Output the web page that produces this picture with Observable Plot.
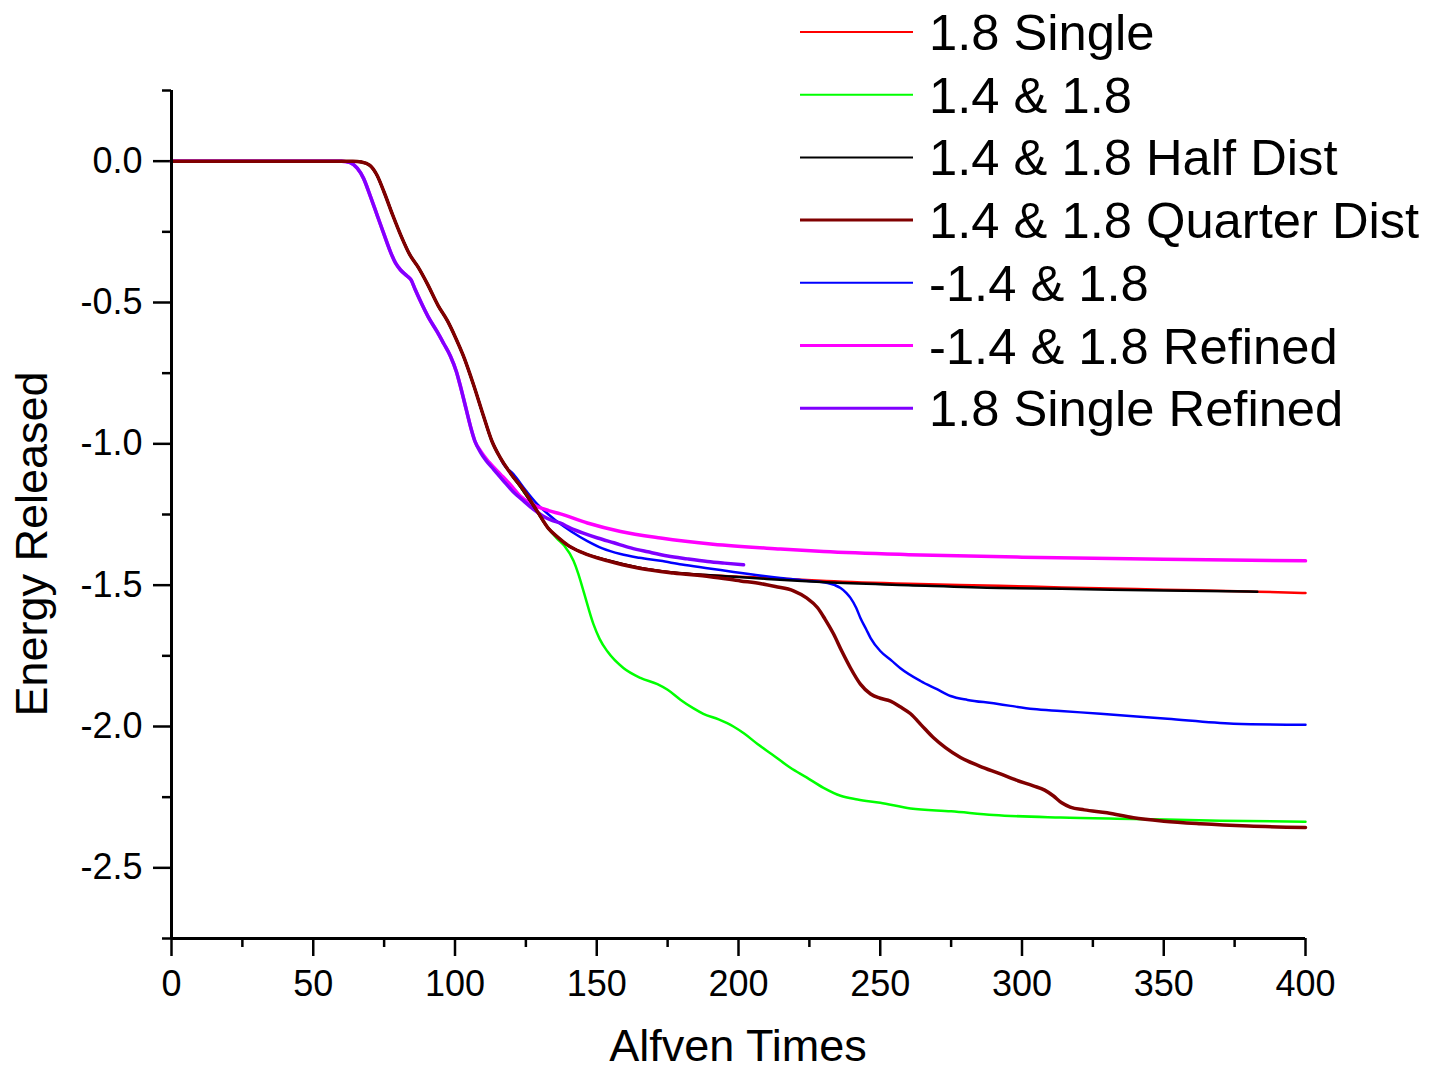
<!DOCTYPE html>
<html>
<head>
<meta charset="utf-8">
<script src="https://cdn.jsdelivr.net/npm/d3@7"></script>
<script src="https://cdn.jsdelivr.net/npm/@observablehq/plot@0.6"></script>
<style>
  html, body { margin: 0; padding: 0; background: #fff; }
  #wrap { position: relative; width: 1429px; height: 1071px; font-family: "Liberation Sans", Arial, sans-serif; }
  #overlay { position: absolute; left: 0; top: 0; pointer-events: none; }
</style>
</head>
<body>
<div id="wrap"></div>
<script>
// ---- Data (Alfven Times, Energy Released) ----
const seriesNames = ["1.8 Single", "1.4 & 1.8", "1.4 & 1.8 Half Dist", "1.4 & 1.8 Quarter Dist", "-1.4 & 1.8", "-1.4 & 1.8 Refined", "1.8 Single Refined"];
const seriesColors = ["#ff0000", "#00ff00", "#000000", "#800000", "#0000ff", "#ff00ff", "#8000ff"];
const seriesWidths = [2.5, 2.5, 2.5, 3.5, 2.5, 3.5, 3.5];

// shared initial drop of the unrefined runs
const earlyDrop = [[0,0],[50,0],[64,0],[67,-0.003],[70,-0.015],[72.5,-0.05],[75,-0.11],[78,-0.19],[81,-0.265],[84,-0.33],[87,-0.375],[90.3,-0.435],[94,-0.51],[97.4,-0.566],[100,-0.62],[103,-0.69],[106.5,-0.79],[110,-0.9],[113,-0.99],[116,-1.05],[120,-1.11]];

const single18 = [[124,-1.165],[129,-1.24],[133,-1.3],[136.2,-1.33],[140,-1.36],[145,-1.385],[153.8,-1.412],[165,-1.438],[177,-1.455],[190,-1.465],[200,-1.47],[210,-1.474],[231,-1.485],[260,-1.495],[292,-1.502],[314,-1.508],[350,-1.516],[383,-1.523],[400,-1.528]];

const pair1418 = [[124,-1.165],[129,-1.24],[133,-1.3],[136,-1.335],[138.5,-1.36],[141.8,-1.414],[143.5,-1.46],[145.3,-1.52],[148.8,-1.637],[151,-1.69],[153.8,-1.735],[159.4,-1.793],[165.4,-1.828],[171.4,-1.85],[175,-1.87],[179.5,-1.905],[184,-1.935],[187.6,-1.955],[193,-1.975],[198.2,-2.0],[202,-2.025],[206.7,-2.062],[212,-2.1],[218.3,-2.146],[224,-2.18],[230,-2.217],[236,-2.245],[242,-2.258],[250,-2.27],[260.7,-2.29],[275,-2.3],[290,-2.313],[313.6,-2.322],[339.3,-2.327],[370,-2.333],[400,-2.337]];

const halfDist = [[124,-1.165],[129,-1.24],[133,-1.3],[136.2,-1.33],[140,-1.36],[145,-1.385],[153.8,-1.412],[165,-1.438],[177,-1.455],[190,-1.465],[200,-1.471],[210,-1.478],[231,-1.49],[260,-1.5],[292,-1.51],[314,-1.513],[350,-1.519],[383,-1.523]];

const quarterDist = [[124,-1.16],[129,-1.238],[133,-1.3],[136.2,-1.33],[140,-1.36],[145,-1.385],[153.8,-1.414],[165,-1.44],[177,-1.457],[190,-1.47],[200.7,-1.485],[208,-1.495],[213,-1.505],[219.4,-1.52],[224,-1.545],[227.9,-1.58],[230.5,-1.62],[233.5,-1.672],[236.5,-1.735],[239.5,-1.793],[243,-1.85],[246.6,-1.885],[250,-1.9],[253.6,-1.91],[257,-1.93],[260.7,-1.955],[264.5,-1.995],[268.8,-2.04],[273,-2.075],[278.3,-2.11],[285,-2.14],[292.4,-2.168],[298,-2.19],[304,-2.21],[308,-2.225],[311,-2.245],[314,-2.27],[317,-2.285],[322,-2.295],[330,-2.305],[339.3,-2.323],[350,-2.335],[363,-2.344],[380,-2.352],[400,-2.357]];

const neg1418 = [[117,-1.07],[120.6,-1.107],[125,-1.165],[129,-1.213],[133,-1.25],[137.2,-1.284],[141,-1.31],[146.7,-1.344],[152,-1.37],[158.4,-1.39],[165,-1.403],[172.5,-1.414],[180,-1.427],[189,-1.44],[196,-1.45],[203,-1.46],[214.8,-1.475],[224,-1.484],[231.4,-1.492],[234,-1.5],[236,-1.51],[238,-1.527],[239.5,-1.545],[241.5,-1.58],[243,-1.616],[245,-1.655],[246.6,-1.687],[250,-1.733],[254,-1.767],[257,-1.793],[264.2,-1.839],[270,-1.868],[274.8,-1.892],[280.8,-1.906],[290,-1.918],[296,-1.927],[304,-1.938],[313.6,-1.945],[327.7,-1.955],[351.3,-1.973],[374.6,-1.99],[400,-1.994]];

// shared initial drop of the refined runs
const refinedDrop = [[0,0],[50,0],[60,0],[63,-0.005],[65.5,-0.025],[67.7,-0.06],[70,-0.12],[72.5,-0.19],[75,-0.26],[77.2,-0.32],[79,-0.36],[80.8,-0.385],[83,-0.405],[84.5,-0.42],[86,-0.455],[87.8,-0.495],[90.5,-0.55],[93.8,-0.605],[96,-0.645],[98.4,-0.69],[100.5,-0.745],[102,-0.8],[104,-0.88],[105.5,-0.94],[107,-0.99]];

const neg1418Refined = [[109,-1.025],[112,-1.065],[116,-1.107],[120,-1.15],[123,-1.185],[126,-1.207],[129,-1.222],[133,-1.236],[137.2,-1.248],[146.7,-1.28],[158.4,-1.31],[172.5,-1.333],[191,-1.355],[214.8,-1.372],[230,-1.381],[260,-1.392],[300,-1.401],[350,-1.408],[400,-1.414]];

const single18Refined = [[109,-1.03],[111,-1.06],[113.6,-1.09],[117,-1.13],[120.6,-1.17],[124,-1.2],[127.7,-1.232],[131,-1.255],[134,-1.27],[137,-1.28],[140.7,-1.298],[145,-1.315],[150.3,-1.333],[156,-1.35],[162,-1.368],[168,-1.382],[175,-1.397],[182,-1.407],[189,-1.416],[195,-1.422],[201.8,-1.428]];

const xMajorTicks = [0, 50, 100, 150, 200, 250, 300, 350, 400];
const xMinorTicks = [25, 75, 125, 175, 225, 275, 325, 375];
const yMajorTicks = [0, -0.5, -1, -1.5, -2, -2.5];
const yMinorTicks = [0.25, -0.25, -0.75, -1.25, -1.75, -2.25, -2.75];
const xTitle = "Alfven Times";
const yTitle = "Energy Released";

// ---- Build table ----
const seriesPoints = [
  earlyDrop.concat(single18),
  earlyDrop.concat(pair1418),
  earlyDrop.concat(halfDist),
  earlyDrop.concat(quarterDist),
  earlyDrop.filter(p => p[0] < 117).concat(neg1418),
  refinedDrop.concat(neg1418Refined),
  refinedDrop.concat(single18Refined)
];
const rows = [];
seriesPoints.forEach((pts, i) => pts.forEach(([t, e]) => rows.push({series: seriesNames[i], t, e})));

// draw order (later on top)
const drawOrder = [0, 1, 4, 5, 6, 2, 3];

const fontFamily = '"Liberation Sans", Arial, sans-serif';

const chart = Plot.plot({
  width: 1429,
  height: 1071,
  marginLeft: 171,
  marginRight: 124,
  marginTop: 90,
  marginBottom: 133,
  style: {fontFamily, background: "#fff", color: "#000", overflow: "visible"},
  x: {domain: [0, 400]},
  y: {domain: [-2.75, 0.25]},
  marks: [
    Plot.axisX(xMajorTicks, {tickSize: 18, tickPadding: 14, fontSize: 36, strokeWidth: 2.5, tickFormat: d => String(d), label: null}),
    Plot.axisX(xMinorTicks, {tickSize: 9, strokeWidth: 2.5, tickFormat: () => "", label: null}),
    Plot.axisY(yMajorTicks, {tickSize: 18, tickPadding: 11, fontSize: 36, strokeWidth: 2.5, tickFormat: d => d.toFixed(1), label: null}),
    Plot.axisY(yMinorTicks, {tickSize: 9, strokeWidth: 2.5, tickFormat: () => "", label: null}),
    ...drawOrder.map(i => Plot.line(rows.filter(r => r.series === seriesNames[i]), {
      x: "t", y: "e", stroke: seriesColors[i], strokeWidth: seriesWidths[i], curve: "monotone-x"
    })),
    Plot.ruleY([-2.75], {strokeWidth: 3}),
    Plot.ruleX([0], {strokeWidth: 3})
  ]
});

const wrap = document.getElementById("wrap");
wrap.appendChild(chart);

// ---- Overlay: axis titles and legend ----
const ns = "http://www.w3.org/2000/svg";
const ov = document.createElementNS(ns, "svg");
ov.setAttribute("id", "overlay");
ov.setAttribute("width", 1429);
ov.setAttribute("height", 1071);
ov.style.fontFamily = fontFamily;
function mk(tag, attrs, text) {
  const el = document.createElementNS(ns, tag);
  for (const k in attrs) el.setAttribute(k, attrs[k]);
  if (text != null) el.textContent = text;
  ov.appendChild(el);
  return el;
}
mk("text", {x: 738, y: 1061, "text-anchor": "middle", "font-size": 45, fill: "#000"}, xTitle);
mk("text", {transform: "translate(47,544) rotate(-90)", "text-anchor": "middle", "font-size": 45, fill: "#000"}, yTitle);
seriesNames.forEach((name, i) => {
  const yy = 32 + i * 62.7;
  mk("line", {x1: 800, x2: 913, y1: yy, y2: yy, stroke: seriesColors[i], "stroke-width": seriesWidths[i] - 0.5});
  mk("text", {x: 929, y: yy + 18, "font-size": 50.7, fill: "#000"}, name);
});
wrap.appendChild(ov);
</script>
</body>
</html>
